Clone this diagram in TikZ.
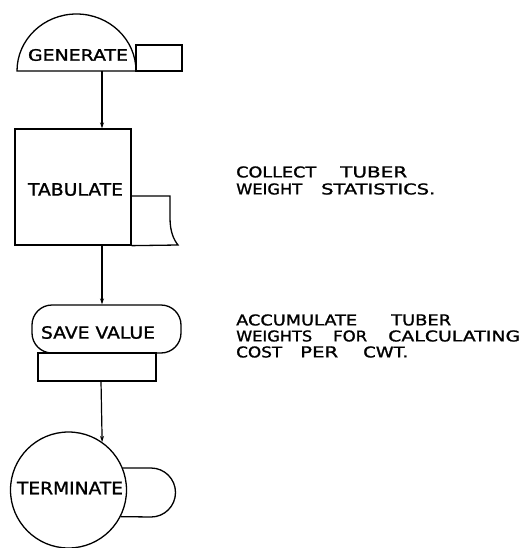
\documentclass[tikz,border=0pt]{standalone}
\usepackage{fontspec}
\setmainfont{DejaVu Sans}[FakeBold=1.2,UprightFont=*,BoldFont=*]
\usetikzlibrary{arrows.meta}
\newcommand{\rb}[3][11]{\resizebox{#2pt}{#1pt}{\bfseries #3}}
\begin{document}
\begin{tikzpicture}[x=1pt,y=-1pt,
  shp/.style={draw, line width=1.3pt, inner sep=0pt},
  lbl/.style={inner sep=0pt, anchor=center},
  note/.style={inner sep=0pt, anchor=west},
  flow/.style={-{Stealth[length=6pt,width=4pt]}, line width=1.2pt}]
\useasboundingbox (0,0) rectangle (524,548);
% GENERATE
\draw[line width=1.3pt] (17,71) arc[start angle=180,end angle=360,x radius=59.5,y radius=57] -- cycle;
\node[shp, minimum width=46pt, minimum height=26pt] (genbox) at (159,58) {};
\node[lbl] (genl) at (78,55) {\rb[11.7]{100}{GENERATE}};
\coordinate (genout) at (102,71);
% TABULATE
\node[shp, minimum width=116pt, minimum height=116pt] (tab) at (73,187) {};
\node[lbl] (tabl) at (75.5,189.5) {\rb[12.5]{95}{TABULATE}};
\draw[line width=1.3pt] (tab.east |- 0,196) -- (170,196) -- (170,218) .. controls (170,232) and (174,240) .. (178,245) -- (tab.south east);
\coordinate (tabout) at (102,245);
% SAVE VALUE
\node[shp, rounded corners=20pt, minimum width=149pt, minimum height=48pt] (sv) at (106.5,329) {};
\node[lbl] (svl) at (98,332.5) {\rb[12.5]{114}{SAVE VALUE}};
\node[shp, minimum width=118pt, minimum height=28pt] (svbox) at (97,367) {};
\coordinate (svout) at (101,381);
% TERMINATE
\node[shp, circle, minimum size=116pt] (term) at (68.5,490) {};
\node[lbl] (terml) at (70,488) {\rb[12.5]{106}{TERMINATE}};
\draw[line width=1.3pt] (term.22.4) -- (151,468) arc[start angle=-90,end angle=90,radius=24.5] -- (term.-27.8);
% connectors
\draw[flow] (genout) -- (genout |- tab.north);
\draw[flow] (tabout) -- (tabout |- sv.north);
\draw[flow] (svout) -- (term.55.9);
% notes
\node[note] (n1a) at (236,172) {\rb{80}{COLLECT}\hspace{24pt}\rb{67}{TUBER}};
\node[note] (n1b) at (236,189) {\rb{66}{WEIGHT}\hspace{19pt}\rb{114}{STATISTICS.}};
\node[note] (n2a) at (236,320) {\rb{121}{ACCUMULATE}\hspace{34pt}\rb{60}{TUBER}};
\node[note] (n2b) at (236,336) {\rb{76}{WEIGHTS}\hspace{21pt}\rb{34}{FOR}\hspace{21pt}\rb{132}{CALCULATING}};
\node[note] (n2c) at (236,352) {\rb{46}{COST}\hspace{18pt}\rb{38}{PER}\hspace{25pt}\rb{45}{CWT.}};
\end{tikzpicture}
\end{document}
